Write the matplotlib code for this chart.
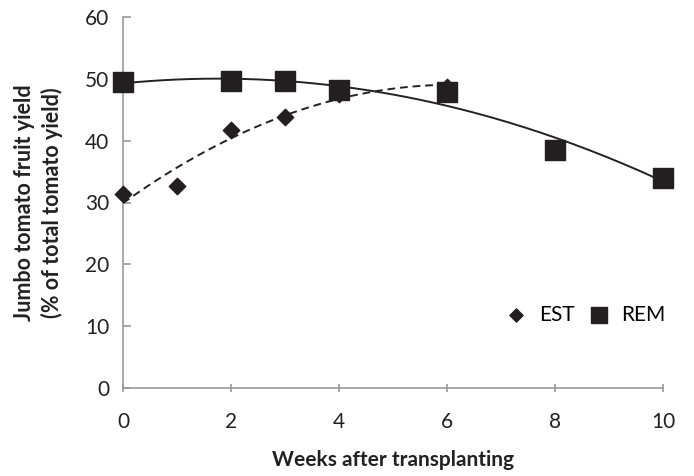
import numpy as np
import matplotlib.pyplot as plt

plt.rcParams['font.family'] = ['Lato', 'DejaVu Sans']

est_weeks = [0, 1, 2, 3, 4, 6]
est_yield = [31.3, 32.7, 41.8, 43.8, 47.5, 48.7]
rem_weeks = [0, 2, 3, 4, 6, 8, 10]
rem_yield = [49.5, 49.6, 49.6, 48.2, 47.9, 38.5, 34.0]

fig = plt.figure(figsize=(6.94, 4.76), dpi=100)
ax = fig.add_axes([123 / 694, 1 - 388 / 476, 540 / 694, 371 / 476])

# second order trend lines, like the spreadsheet ones
ce = np.polyfit(est_weeks, est_yield, 2)
te = np.linspace(0, 6, 100)
ax.plot(te, np.polyval(ce, te), color='#222222', lw=1.4, ls=(0, (4, 2.5)))
cr = np.polyfit(rem_weeks, rem_yield, 2)
tr = np.linspace(0, 10, 200)
ax.plot(tr, np.polyval(cr, tr), color='#222222', lw=1.4)

ax.scatter(est_weeks, est_yield, marker='D', s=70, color='#231f20', label='EST', zorder=3, clip_on=False)
ax.scatter(rem_weeks, rem_yield, marker='s', s=190, color='#231f20', label='REM', zorder=4, clip_on=False)

ax.set_xlim(0, 10)
ax.set_ylim(0, 60)
ax.set_xticks(range(0, 11, 2))
ax.set_yticks(range(0, 61, 10))
for s in ['top', 'right']:
    ax.spines[s].set_visible(False)
for s in ['left', 'bottom']:
    ax.spines[s].set_color('#999999')
    ax.spines[s].set_linewidth(1.2)
ax.tick_params(colors='#999999', labelcolor='#222222', labelsize=15, length=6, width=1.2)
ax.tick_params(axis='x', direction='inout', pad=14)
ax.tick_params(axis='y', direction='in', pad=10)

ax.set_xlabel('Weeks after transplanting', fontsize=15, fontweight='bold', color='#222222', labelpad=13)
ax.set_ylabel('Jumbo tomato fruit yield\n(% of total tomato yield)', fontsize=15.5, fontweight='bold',
              color='#222222', labelpad=16, linespacing=1.3)

ax.legend(loc='lower right', bbox_to_anchor=(1.04, 0.12), ncol=2, frameon=False, fontsize=15,
          handletextpad=0.1, columnspacing=0.15, markerscale=0.8)

fig.savefig('out.png', dpi=100)
